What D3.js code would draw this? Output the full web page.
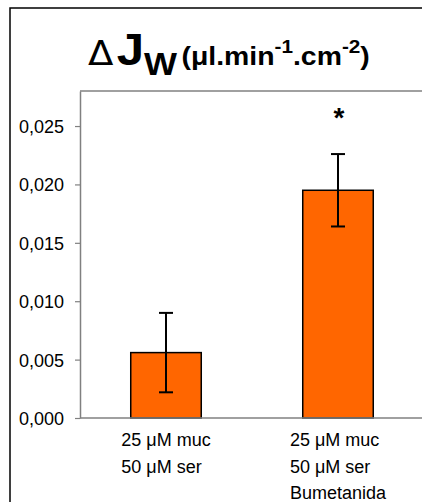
<!DOCTYPE html>
<html>
<head>
<meta charset="utf-8">
<script src="https://cdn.jsdelivr.net/npm/d3@7"></script>
<style>
  body { margin: 0; background: #fff; }
  svg { display: block; font-family: "Liberation Sans", Arial, sans-serif; }
</style>
</head>
<body>
<svg id="chart" width="422" height="502"></svg>
<script>
// data
const categories = [
    ["25 \u03bcM muc", "50 \u03bcM ser"],
    ["25 \u03bcM muc", "50 \u03bcM ser", "Bumetanida"]
];
const values = [0.0056, 0.0195];
const errors = [0.0034, 0.0031];
const marks = ["", "*"];
const yTicks = [0, 0.005, 0.010, 0.015, 0.020, 0.025];

const svg = d3.select("#chart");
const plot = { left: 80, right: 424, top: 91, bottom: 418 };

// outer frame (runs off the right and bottom edges)
svg.append("rect")
    .attr("x", 10).attr("y", 8)
    .attr("width", 430).attr("height", 520)
    .attr("fill", "none")
    .attr("stroke", "#000")
    .attr("stroke-width", 1.5);

const x = d3.scaleBand()
    .domain(d3.range(values.length))
    .range([plot.left, plot.right])
    .paddingInner(0.59)
    .paddingOuter(0.295);

const y = d3.scaleLinear()
    .domain([0, 0.028])
    .range([plot.bottom, plot.top]);

// plot box top line
svg.append("line")
    .attr("x1", plot.left).attr("x2", plot.right)
    .attr("y1", plot.top).attr("y2", plot.top)
    .attr("stroke", "#808080").attr("stroke-width", 1.5);

// y axis
const fmt = d => d3.format(".3f")(d).replace(".", ",");
const yAxis = svg.append("g")
    .attr("transform", `translate(${plot.left},0)`)
    .call(d3.axisLeft(y).tickValues(yTicks).tickFormat(fmt).tickSize(5).tickSizeOuter(0));
yAxis.select(".domain").attr("stroke", "#808080").attr("stroke-width", 1.5);
yAxis.selectAll(".tick line").attr("stroke", "#808080").attr("stroke-width", 1.2);
yAxis.selectAll(".tick text")
    .attr("x", -16)
    .attr("dy", "0.36em")
    .style("font-size", "18px")
    .style("font-family", "Liberation Sans, Arial, sans-serif")
    .attr("fill", "#000");

// bars
svg.selectAll(".bar")
    .data(values)
    .enter().append("rect")
    .attr("class", "bar")
    .attr("x", (d, i) => x(i))
    .attr("width", x.bandwidth())
    .attr("y", d => y(d))
    .attr("height", d => y(0) - y(d))
    .attr("fill", "#ff6600")
    .attr("stroke", "#000")
    .attr("stroke-width", 1.5);

// x axis baseline
svg.append("line")
    .attr("x1", plot.left).attr("x2", plot.right)
    .attr("y1", y(0)).attr("y2", y(0))
    .attr("stroke", "#808080").attr("stroke-width", 1.5);

// error bars
const cx = i => x(i) + x.bandwidth() / 2;
const eb = svg.selectAll(".err")
    .data(values)
    .enter().append("g")
    .attr("class", "err")
    .attr("stroke", "#000")
    .attr("stroke-width", 2);
eb.append("line")
    .attr("x1", (d, i) => cx(i)).attr("x2", (d, i) => cx(i))
    .attr("y1", (d, i) => y(d + errors[i]))
    .attr("y2", (d, i) => y(d - errors[i]));
[1, -1].forEach(s => {
    eb.append("line")
        .attr("x1", (d, i) => cx(i) - 7).attr("x2", (d, i) => cx(i) + 7)
        .attr("y1", (d, i) => y(d + s * errors[i]))
        .attr("y2", (d, i) => y(d + s * errors[i]));
});

// significance marks
svg.selectAll(".mark")
    .data(marks)
    .enter().append("text")
    .attr("class", "mark")
    .attr("x", (d, i) => cx(i) + 1)
    .attr("y", 127)
    .attr("text-anchor", "middle")
    .style("font-size", "28px")
    .style("font-weight", "bold")
    .text(d => d);

// category labels: left-aligned block centred under each bar
categories.forEach((lines, i) => {
    const g = svg.append("text")
        .style("font-size", "18px")
        .attr("fill", "#000");
    const spans = g.selectAll("tspan")
        .data(lines)
        .enter().append("tspan")
        .attr("x", 0)
        .attr("y", (d, j) => 446 + j * 26.5)
        .text(d => d);
    const w = d3.max(spans.nodes(), n => n.getComputedTextLength());
    spans.attr("x", cx(i) - w / 2);
});

// title
const titleG = svg.append("g");
const title = titleG.append("text")
    .attr("x", 0).attr("y", 65)
    .style("font-weight", "bold")
    .attr("fill", "#000");
title.append("tspan").style("font-size", "34px").style("font-weight", "normal")
    .style("font-family", "DejaVu Sans, sans-serif").text("\u0394");
title.append("tspan").style("font-size", "45px").attr("dx", 3).text("J");
title.append("tspan").style("font-size", "32px").attr("dy", 10).text("W");
title.append("tspan").style("font-size", "26px").attr("dy", -10).attr("dx", 4).text("(\u03bcl.min");
title.append("tspan").style("font-size", "19px").attr("dy", -12).text("-1");
title.append("tspan").style("font-size", "26px").attr("dy", 12).text(".cm");
title.append("tspan").style("font-size", "19px").attr("dy", -12).text("-2");
title.append("tspan").style("font-size", "26px").attr("dy", 12).text(")");
const tb = title.node().getBBox();
const sx = (370 - 88) / tb.width;
titleG.attr("transform", `translate(${88 - tb.x * sx},0) scale(${sx},1)`);
</script>
</body>
</html>
